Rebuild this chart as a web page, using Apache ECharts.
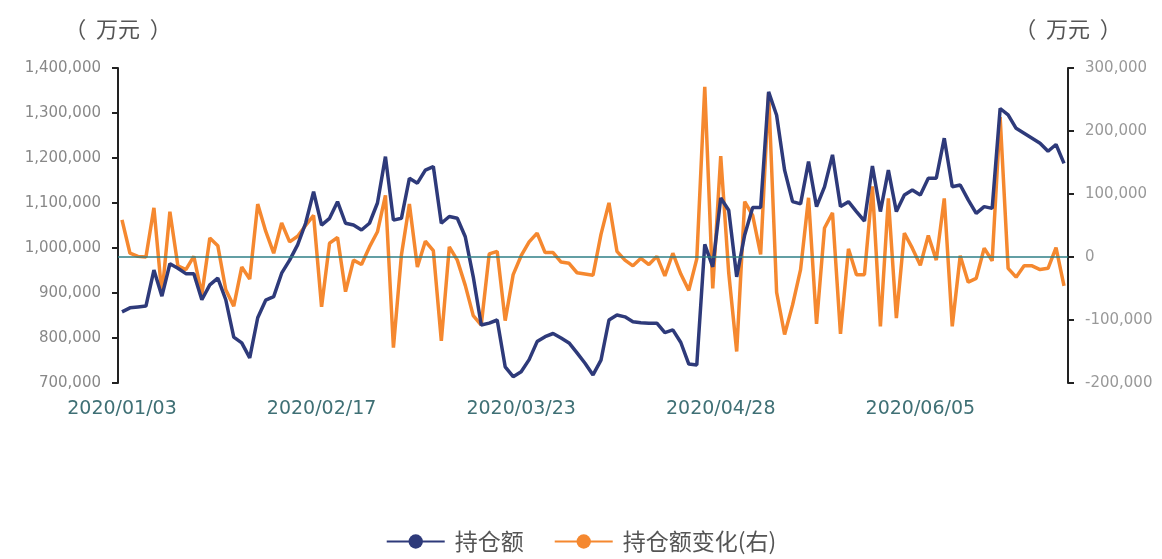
<!DOCTYPE html>
<html>
<head>
<meta charset="utf-8">
<script src="https://cdn.jsdelivr.net/npm/echarts@6/dist/echarts.min.js"></script>
<style>
html,body{margin:0;padding:0;background:#fff;}
#c{width:1162px;height:559px;}
</style>
</head>
<body>
<div id="c"></div>
<script>
const dates = [
"2020/01/03","2020/01/06","2020/01/07","2020/01/08","2020/01/09","2020/01/10","2020/01/13","2020/01/14","2020/01/15","2020/01/16","2020/01/17","2020/01/20","2020/01/21","2020/01/22","2020/01/23",
"2020/02/03","2020/02/04","2020/02/05","2020/02/06","2020/02/07","2020/02/10","2020/02/11","2020/02/12","2020/02/13","2020/02/14","2020/02/17","2020/02/18","2020/02/19","2020/02/20","2020/02/21","2020/02/24","2020/02/25","2020/02/26","2020/02/27","2020/02/28",
"2020/03/02","2020/03/03","2020/03/04","2020/03/05","2020/03/06","2020/03/09","2020/03/10","2020/03/11","2020/03/12","2020/03/13","2020/03/16","2020/03/17","2020/03/18","2020/03/19","2020/03/20","2020/03/23","2020/03/24","2020/03/25","2020/03/26","2020/03/27","2020/03/30","2020/03/31",
"2020/04/01","2020/04/02","2020/04/03","2020/04/07","2020/04/08","2020/04/09","2020/04/10","2020/04/13","2020/04/14","2020/04/15","2020/04/16","2020/04/17","2020/04/20","2020/04/21","2020/04/22","2020/04/23","2020/04/24","2020/04/27","2020/04/28","2020/04/29","2020/04/30",
"2020/05/06","2020/05/07","2020/05/08","2020/05/11","2020/05/12","2020/05/13","2020/05/14","2020/05/15","2020/05/18","2020/05/19","2020/05/20","2020/05/21","2020/05/22","2020/05/25","2020/05/26","2020/05/27","2020/05/28","2020/05/29",
"2020/06/01","2020/06/02","2020/06/03","2020/06/04","2020/06/05","2020/06/08","2020/06/09","2020/06/10","2020/06/11","2020/06/12","2020/06/15","2020/06/16","2020/06/17","2020/06/18","2020/06/19","2020/06/22","2020/06/23","2020/06/24","2020/06/29","2020/06/30",
"2020/07/01","2020/07/02","2020/07/03"
];

const holdings = [
858000,867000,869000,871000,951000,893000,965000,955000,943000,943000,
885000,918000,933000,885000,802000,789000,756000,845000,884000,892000,
944000,973000,1007000,1055000,1125000,1051000,1066000,1103000,1055000,1051000,
1040000,1055000,1100000,1203000,1062000,1066000,1155000,1144000,1173000,1181000,
1055000,1070000,1066000,1025000,936000,829000,833000,840000,736000,714000,
725000,752000,792000,803000,810000,800000,789000,767000,744000,718000,
751000,840000,851000,847000,836000,834000,833000,833000,812000,818000,
790000,742000,740000,1008000,958000,1111000,1084000,936000,1029000,1090000,
1090000,1347000,1295000,1173000,1103000,1098000,1192000,1092000,1136000,1207000,
1092000,1103000,1081000,1060000,1182000,1081000,1173000,1081000,1118000,1129000,
1118000,1155000,1155000,1244000,1136000,1140000,1107000,1077000,1092000,1088000,
1310000,1296000,1266000,1255000,1244000,1233000,1215000,1230000,1188000
];

const change = [
59000,6000,1000,0,78000,-60000,72000,-14000,-20000,1000,
-60000,30000,18000,-52000,-78000,-16000,-35000,84000,41000,6000,
54000,24000,33000,50000,66000,-79000,22000,31000,-55000,-5000,
-12000,16000,40000,98000,-144000,3000,84000,-16000,25000,10000,
-133000,16000,-5000,-45000,-93000,-108000,5000,9000,-101000,-28000,
2000,24000,38000,7000,7000,-8000,-10000,-25000,-27000,-29000,
36000,86000,9000,-5000,-14000,-2000,-12000,1000,-30000,6000,
-27000,-53000,-3000,270000,-50000,160000,-25000,-150000,88000,66000,
4000,260000,-56000,-123000,-76000,-20000,94000,-106000,46000,70000,
-122000,13000,-28000,-28000,112000,-110000,93000,-97000,38000,14000,
-13000,34000,-5000,93000,-110000,2000,-40000,-34000,14000,-6000,
222000,-18000,-32000,-14000,-14000,-20000,-18000,15000,-46000
];

const seriesNames = ["持仓额", "持仓额变化(右)"];
const unitName = "（  万元  ）";
const leftTicks = {min: 700000, max: 1400000, interval: 100000};
const rightTicks = {min: -200000, max: 300000, interval: 100000};

const FONT = "'Noto Sans CJK SC', 'Noto Sans', sans-serif";
const NUMFONT = "'DejaVu Sans', sans-serif";
const chart = echarts.init(document.getElementById('c'));
chart.setOption({
  backgroundColor: '#ffffff',
  animation: false,
  textStyle: {fontFamily: FONT},
  grid: {left: 118, right: 94, top: 68, bottom: 176},
  legend: {
    bottom: 1,
    left: 'center',
    itemWidth: 58,
    itemHeight: 18,
    itemGap: 30,
    textStyle: {fontSize: 23, color: '#555', fontFamily: FONT, padding: [0, 0, 0, 5]},
    data: seriesNames
  },
  xAxis: {
    type: 'category',
    data: dates,
    boundaryGap: true,
    axisLine: {show: false},
    axisTick: {show: false},
    axisLabel: {interval: 24, color: '#3f7075', fontSize: 19, margin: 17, fontFamily: NUMFONT}
  },
  yAxis: [
    {
      type: 'value',
      position: 'left',
      min: leftTicks.min, max: leftTicks.max, interval: leftTicks.interval,
      name: unitName,
      nameLocation: 'end',
      nameGap: 28,
      nameTextStyle: {fontSize: 22, color: '#555', align: 'center', fontFamily: FONT},
      splitLine: {show: false},
      axisLine: {show: true, lineStyle: {color: '#222', width: 2}},
      axisTick: {show: true, length: 6, lineStyle: {color: '#222', width: 2}},
      axisLabel: {color: '#888', fontSize: 15, margin: 17, fontFamily: NUMFONT}
    },
    {
      type: 'value',
      position: 'right',
      min: rightTicks.min, max: rightTicks.max, interval: rightTicks.interval,
      name: unitName,
      nameLocation: 'end',
      nameGap: 28,
      nameTextStyle: {fontSize: 22, color: '#555', align: 'center', fontFamily: FONT},
      splitLine: {show: false},
      axisLine: {show: true, lineStyle: {color: '#222', width: 2}},
      axisTick: {show: true, length: 6, lineStyle: {color: '#222', width: 2}},
      axisLabel: {color: '#999', fontSize: 15, margin: 17, fontFamily: NUMFONT}
    }
  ],
  series: [
    {
      name: seriesNames[0],
      type: 'line',
      yAxisIndex: 0,
      data: holdings,
      symbol: 'circle',
      symbolSize: 18,
      showSymbol: false,
      lineStyle: {width: 3.5, color: '#2e3a7a'},
      itemStyle: {color: '#2e3a7a'},
      z: 3
    },
    {
      name: seriesNames[1],
      type: 'line',
      yAxisIndex: 1,
      data: change,
      symbol: 'circle',
      symbolSize: 18,
      showSymbol: false,
      lineStyle: {width: 3.5, color: '#f5882f'},
      itemStyle: {color: '#f5882f'},
      z: 2,
      markLine: {
        silent: true,
        symbol: ['none', 'none'],
        label: {show: false},
        lineStyle: {color: '#2f7f86', width: 1.5, type: 'solid'},
        data: [{yAxis: 0}]
      }
    }
  ]
});
</script>
</body>
</html>
